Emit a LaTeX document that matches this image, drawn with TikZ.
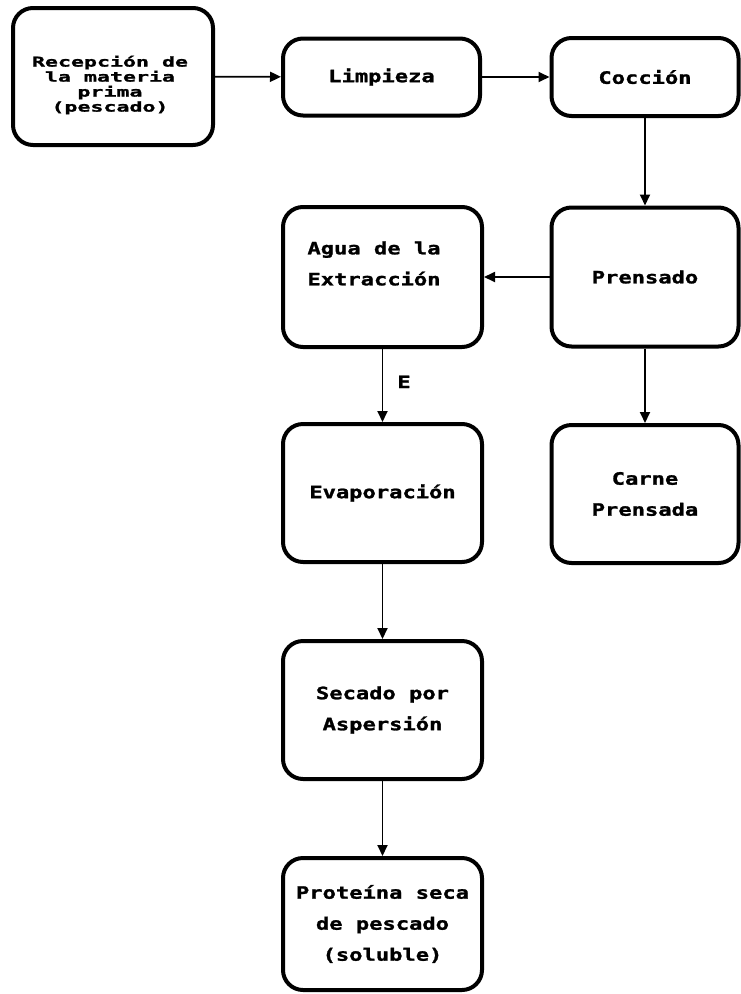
\documentclass[tikz,border=0pt]{standalone}
\usepackage{fontspec}
\usetikzlibrary{arrows.meta}
\newfontfamily\dm{DejaVu Sans Mono}[FakeStretch=1.3,FakeBold=1.5]
\newfontfamily\rc{DejaVu Sans Mono}[FakeStretch=1.6,FakeBold=1.5]
\tikzset{
  box/.style={draw, line width=4pt, rounded corners=20pt, rectangle, inner sep=0pt, align=center,
     font=\dm\bfseries\fontsize{17}{31}\selectfont},
  conn/.style={line width=1.8pt, -{Triangle[length=11pt,width=10pt]}},
  txt/.style={inner sep=0pt, align=center, font=\dm\bfseries\fontsize{17}{31}\selectfont}
}
\begin{document}
\begin{tikzpicture}[x=1pt,y=-1pt]
\useasboundingbox (0,0) rectangle (740,994);
\node[box, minimum width=200pt, minimum height=137pt] (rec) at (113,76.5) {};
\node[txt, font=\rc\bfseries\fontsize{13.5}{15}\selectfont] (rect) at (110,85)
  {Recepción de\\la materia\\prima\\(pescado)};
\node[box, minimum width=197pt, minimum height=77pt] (lim) at (381.5,77) {Limpieza};
\node[box, minimum width=187pt, minimum height=78pt] (coc) at (645,77) {Cocción};
\node[box, minimum width=187pt, minimum height=139pt] (pre) at (645,277) {Prensado};
\node[box, minimum width=199pt, minimum height=140pt] (agua) at (382.5,277) {};
\node[txt] (aguat) at (374,263.5) {Agua de la\\Extracción};
\node[box, minimum width=199pt, minimum height=138pt] (evap) at (382.5,493) {Evaporación};
\node[box, minimum width=187pt, minimum height=138pt] (carne) at (645,494) {Carne\\Prensada};
\node[box, minimum width=199pt, minimum height=138pt] (sec) at (382.5,710) {Secado por\\Aspersión};
\node[box, minimum width=199pt, minimum height=132pt] (prot) at (382.5,924) {Proteína seca\\de pescado\\(soluble)};
\draw[conn] (rec) -- (lim);
\draw[conn] (lim) -- (coc);
\draw[conn] (coc) -- (pre);
\draw[conn] (pre) -- (agua);
\draw[conn] (pre) -- (carne);
\draw[conn] (agua) -- node[txt, right=14pt, pos=0.45] (elab) {E} (evap);
\draw[conn] (evap) -- (sec);
\draw[conn] (sec) -- (prot);
\end{tikzpicture}
\end{document}
